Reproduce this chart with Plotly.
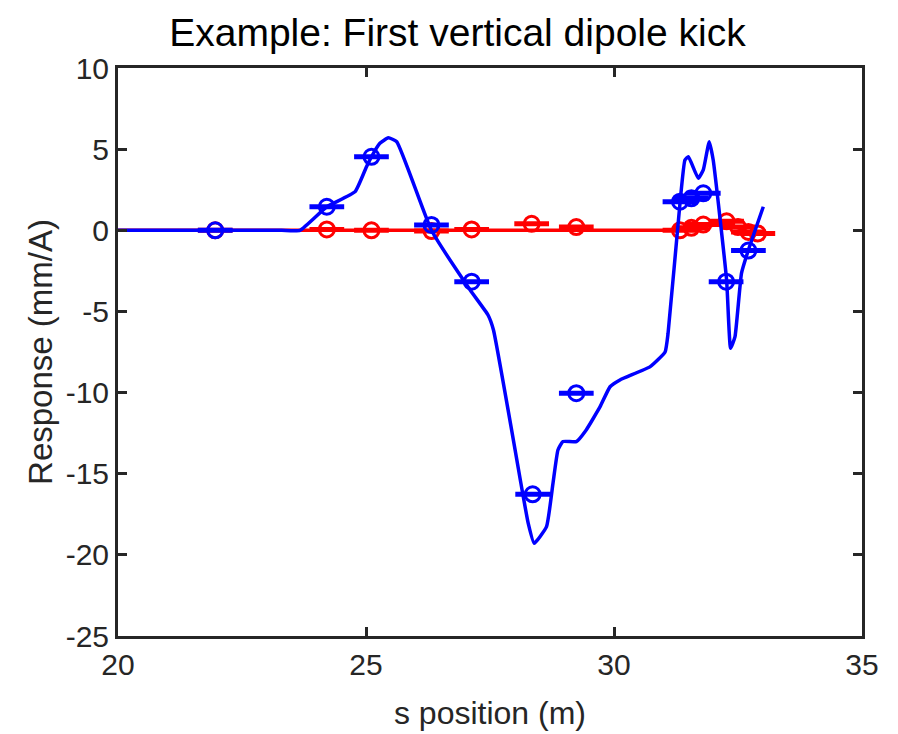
import plotly.graph_objects as go

# Model (simulated) vertical response, line
s_v_model = [20.0, 22.0, 23.3, 23.67, 24.21, 24.78, 25.01, 25.11, 25.28, 25.45, 25.62, 26.32, 27.10, 27.46, 27.57,
             28.17, 28.27, 28.39, 28.64, 28.77, 28.87, 28.97, 29.24, 29.44, 29.72, 29.92, 30.12,
             30.73, 31.03, 31.09, 31.33, 31.43, 31.50, 31.70, 31.80, 31.92, 32.00, 32.27, 32.35,
             32.44, 32.57, 32.71, 33.01]
y_v_model = [0.0, 0.0, 0.0, 0.0, 1.45, 2.38, 3.92, 4.53, 5.36, 5.70, 5.46, 0.0, -3.68, -5.22, -6.14,
             -16.4, -18.05, -19.29, -18.26, -15.59, -13.54, -13.02, -13.02, -12.3, -10.87, -9.64, -9.22,
             -8.4, -7.5, -6.35, 1.66, 4.33, 4.53, 3.2, 3.72, 5.46, 4.33, -3.06, -7.27,
             -6.55, -2.65, -1.21, 1.45]

# Measured vertical response at BPMs
s_v_meas = [21.96, 24.21, 25.11, 26.32, 27.13, 28.36, 29.24, 31.33, 31.56, 31.80, 32.26, 32.71]
y_v_meas = [0.0, 1.45, 4.53, 0.33, -3.17, -16.27, -10.04, 1.76, 1.97, 2.28, -3.17, -1.25]

# Model horizontal response, line
s_h_model = [20.0, 31.2, 31.5, 31.8, 32.1, 32.3, 32.5, 32.7, 33.0]
y_h_model = [0.0, 0.0, 0.1, 0.25, 0.35, 0.4, 0.15, -0.1, -0.2]

# Measured horizontal response at BPMs
s_h_meas = [21.96, 24.21, 25.11, 26.32, 27.13, 28.34, 29.24, 31.33, 31.56, 31.80, 32.27, 32.50, 32.71, 32.90]
y_h_meas = [0.0, 0.05, 0.0, -0.05, 0.05, 0.4, 0.2, 0.0, 0.15, 0.35, 0.55, 0.2, -0.1, -0.2]

bpm_halfwidth = 0.35  # horizontal extent of BPM bars (m)

x_ticks = [20, 25, 30, 35]
x_ticktext = ["20", "25", "30", "35"]
y_ticks = [10, 5, 0, -5, -10, -15, -20, -25]
y_ticktext = ["10", "5", "0", "-5", "-10", "-15", "-20", "-25"]

BLUE = "#0000FF"
RED = "#FF0000"
AX = "#262626"

fig = go.Figure()

fig.add_trace(go.Scatter(x=s_h_model, y=y_h_model, mode="lines",
                         line=dict(color=RED, width=3.5), showlegend=False))
fig.add_trace(go.Scatter(x=s_h_meas, y=y_h_meas, mode="markers",
                         marker=dict(symbol="circle-open", size=15, color=RED, line=dict(width=3)),
                         error_x=dict(type="constant", value=bpm_halfwidth, color=RED,
                                      thickness=5, width=0),
                         showlegend=False))
fig.add_trace(go.Scatter(x=s_v_model, y=y_v_model, mode="lines",
                         line=dict(color=BLUE, width=3.5, shape="spline", smoothing=0.4),
                         showlegend=False))
fig.add_trace(go.Scatter(x=s_v_meas, y=y_v_meas, mode="markers",
                         marker=dict(symbol="circle-open", size=15, color=BLUE, line=dict(width=3)),
                         error_x=dict(type="constant", value=bpm_halfwidth, color=BLUE,
                                      thickness=5, width=0),
                         showlegend=False))

FONT = "Liberation Sans, Arial, sans-serif"

fig.update_layout(
    width=890, height=726,
    margin=dict(l=110, r=36, t=60, b=98, autoexpand=False),
    paper_bgcolor="white", plot_bgcolor="white",
    title=dict(text="Example: First vertical dipole kick", x=0.505, xanchor="center",
               y=0.967, yanchor="middle",
               font=dict(family=FONT, size=39, color="black")),
    font=dict(family=FONT, color=AX),
)
axis_common = dict(showline=True, linewidth=3, linecolor=AX, mirror="ticks",
                   ticks="inside", ticklen=9, tickwidth=3, tickcolor=AX,
                   showgrid=False, zeroline=False, automargin=False,
                   tickfont=dict(family=FONT, size=30, color=AX))
fig.update_xaxes(range=[20, 35], tickvals=x_ticks, ticktext=x_ticktext, **axis_common,
                 title=dict(text="s position (m)", font=dict(family=FONT, size=32, color=AX), standoff=22))
fig.update_yaxes(range=[-25, 10], tickvals=y_ticks, ticktext=y_ticktext, **axis_common,
                 title=dict(text="Response (mm/A)", font=dict(family=FONT, size=33, color=AX), standoff=4))

fig.write_html("out.html")
